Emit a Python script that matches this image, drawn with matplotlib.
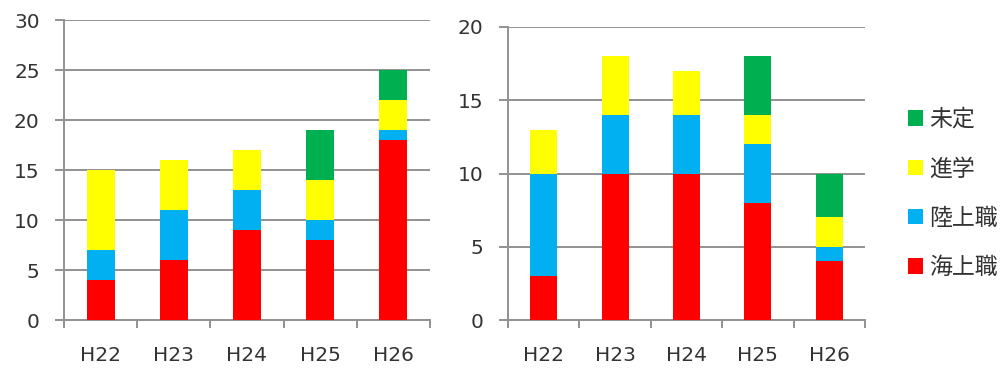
import matplotlib
matplotlib.use("Agg")
import matplotlib.pyplot as plt
from matplotlib.patches import Patch
import numpy as np

plt.rcParams['font.family'] = ['DejaVu Sans', 'Noto Sans CJK JP']

categories = ["H22", "H23", "H24", "H25", "H26"]
series_names = ["海上職", "陸上職", "進学", "未定"]
colors = ["#FF0000", "#00B0F0", "#FFFF00", "#00B050"]

left_kaijo = [4, 6, 9, 8, 18]
left_rikujo = [3, 5, 4, 2, 1]
left_shingaku = [8, 5, 4, 4, 3]
left_mitei = [0, 0, 0, 5, 3]

right_kaijo = [3, 10, 10, 8, 4]
right_rikujo = [7, 4, 4, 4, 1]
right_shingaku = [3, 4, 3, 2, 2]
right_mitei = [0, 0, 0, 4, 3]

W, H = 1008, 368
fig = plt.figure(figsize=(W / 100, H / 100), dpi=100)

grid_c = "#929292"
text_c = "#333333"


def draw(ax, data, ymax):
    x = np.arange(len(categories))
    bottom = np.zeros(len(categories))
    for vals, c in zip(data, colors):
        ax.bar(x, vals, bottom=bottom, width=0.38, color=c, zorder=3, linewidth=0)
        bottom += np.array(vals)
    ax.set_ylim(0, ymax)
    ax.set_xlim(-0.5, len(categories) - 0.5)
    ax.set_yticks(np.arange(0, ymax + 1, 5))
    ax.set_xticks(x)
    ax.set_xticklabels(categories)
    ax.set_xticks(np.arange(-0.5, len(categories), 1.0), minor=True)
    ax.tick_params(axis='x', which='major', length=0, pad=19, labelsize=14.5, colors=text_c)
    ax.tick_params(axis='x', which='minor', length=6, width=1.4, color=grid_c, direction='out')
    ax.tick_params(axis='y', length=6.5, width=1.4, color=grid_c, pad=11, labelsize=14.5,
                   labelcolor=text_c)
    ax.grid(axis='y', color=grid_c, linewidth=1.4, zorder=0)
    for s in ['top', 'right']:
        ax.spines[s].set_visible(False)
    for s in ['left', 'bottom']:
        ax.spines[s].set_color(grid_c)
        ax.spines[s].set_linewidth(1.4)
    ax.set_axisbelow(True)


ax1 = fig.add_axes([64 / W, 48 / H, (430 - 64) / W, 300 / H])
draw(ax1, [left_kaijo, left_rikujo, left_shingaku, left_mitei], 30)

ax2 = fig.add_axes([508 / W, 48 / H, (865 - 508) / W, 293 / H])
draw(ax2, [right_kaijo, right_rikujo, right_shingaku, right_mitei], 20)

handles = [Patch(facecolor=c, edgecolor='none') for c in colors][::-1]
labels = series_names[::-1]
fig.legend(handles, labels, loc='upper left', bbox_to_anchor=(908 / W, 1 - 108 / H),
           frameon=False, prop={'family': 'Noto Sans CJK JP', 'size': 16.5},
           handlelength=0.66, handleheight=0.66, handletextpad=0.27, labelspacing=1.15,
           borderpad=0, borderaxespad=0, labelcolor=text_c)

fig.savefig("out.png", dpi=100)
